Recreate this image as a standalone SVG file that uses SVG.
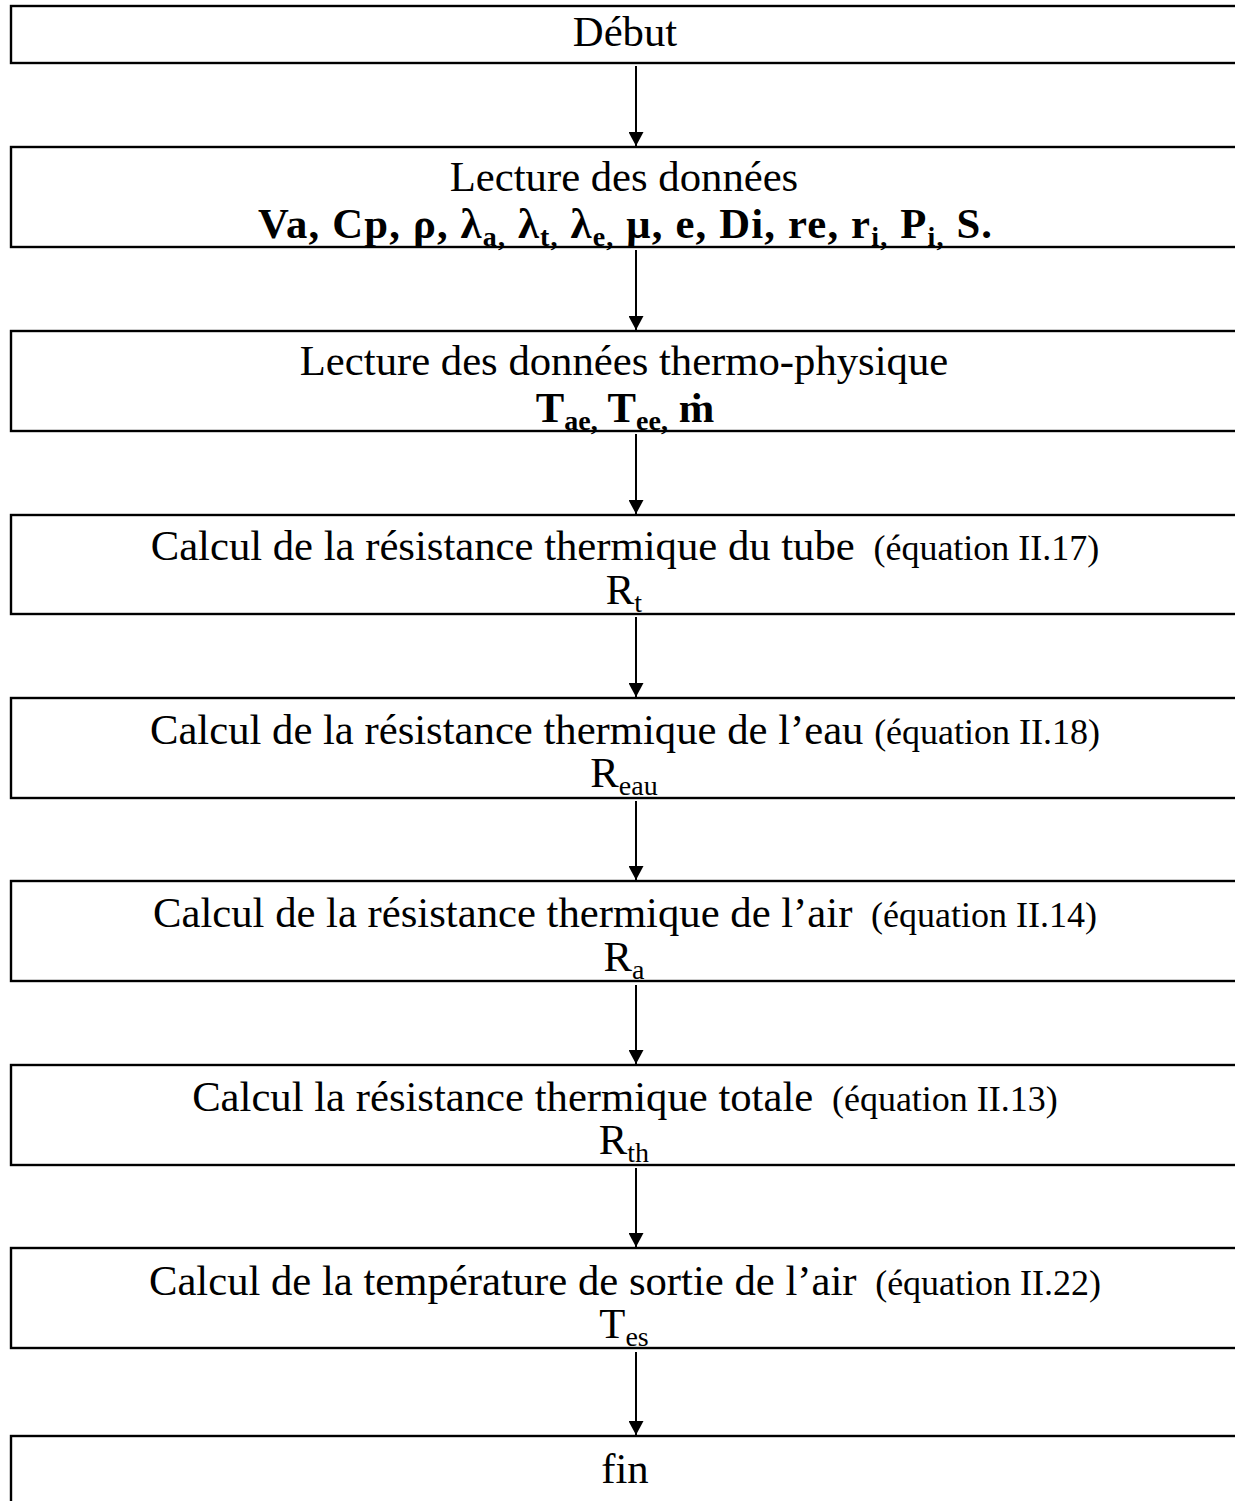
<svg xmlns="http://www.w3.org/2000/svg" width="1235" height="1501" viewBox="0 0 1235 1501">
<defs>
<style>
.box{fill:#fff;stroke:#000;stroke-width:2.4}
.t{font-family:"Liberation Serif","Times New Roman",serif;font-size:42.7px;fill:#000;text-anchor:middle}
.b{font-weight:bold}
.eq{font-size:36px}
.sub{font-size:28px}
.con{stroke:#000;stroke-width:2;fill:none}
</style>
<marker id="ah" viewBox="0 0 14 15" refX="14" refY="7.5" markerWidth="14" markerHeight="15" markerUnits="userSpaceOnUse" orient="auto">
<path d="M0,0 L14,7.5 L0,15 Z" fill="#000"/>
</marker>
</defs>
<rect width="1235" height="1501" fill="#fff"/>
<g id="connectors">
<line class="con" x1="636" y1="66" x2="636" y2="146" marker-end="url(#ah)"/>
<line class="con" x1="636" y1="250" x2="636" y2="330" marker-end="url(#ah)"/>
<line class="con" x1="636" y1="434" x2="636" y2="514" marker-end="url(#ah)"/>
<line class="con" x1="636" y1="617" x2="636" y2="697" marker-end="url(#ah)"/>
<line class="con" x1="636" y1="801" x2="636" y2="880" marker-end="url(#ah)"/>
<line class="con" x1="636" y1="985" x2="636" y2="1064" marker-end="url(#ah)"/>
<line class="con" x1="636" y1="1168" x2="636" y2="1247" marker-end="url(#ah)"/>
<line class="con" x1="636" y1="1352" x2="636" y2="1435" marker-end="url(#ah)"/>
</g>
<g id="n1">
<rect class="box" x="11" y="6" width="1240" height="57"/>
<text class="t" x="625" y="46">Début</text>
</g>
<g id="n2">
<rect class="box" x="11" y="147" width="1240" height="100"/>
<text class="t" x="624" y="191">Lecture des données</text>
<text class="t b" x="625" y="238" textLength="734" lengthAdjust="spacing">Va, Cp, ρ, λ<tspan class="sub" dy="8">a,</tspan><tspan dy="-8"> λ</tspan><tspan class="sub" dy="8">t,</tspan><tspan dy="-8"> λ</tspan><tspan class="sub" dy="8">e,</tspan><tspan dy="-8"> μ, e, Di, re, r</tspan><tspan class="sub" dy="8">i,</tspan><tspan dy="-8"> P</tspan><tspan class="sub" dy="8">i,</tspan><tspan dy="-8"> S.</tspan></text>
</g>
<g id="n3">
<rect class="box" x="11" y="331" width="1240" height="100"/>
<text class="t" x="624" y="375">Lecture des données thermo-physique</text>
<text class="t b" x="625" y="422">T<tspan class="sub" dy="8">ae,</tspan><tspan dy="-8"> T</tspan><tspan class="sub" dy="8">ee,</tspan><tspan dy="-8"> ṁ</tspan></text>
</g>
<g id="n4">
<rect class="box" x="11" y="515" width="1240" height="99"/>
<text class="t" x="625" y="560">Calcul de la résistance thermique du tube <tspan class="eq" dx="8">(équation II.17)</tspan></text>
<text class="t" x="624" y="604">R<tspan class="sub" dy="8">t</tspan></text>
</g>
<g id="n5">
<rect class="box" x="11" y="698" width="1240" height="100"/>
<text class="t" x="625" y="744">Calcul de la résistance thermique de l’eau <tspan class="eq">(équation II.18)</tspan></text>
<text class="t" x="624" y="787">R<tspan class="sub" dy="8">eau</tspan></text>
</g>
<g id="n6">
<rect class="box" x="11" y="881" width="1240" height="100"/>
<text class="t" x="625" y="927">Calcul de la résistance thermique de l’air <tspan class="eq" dx="8">(équation II.14)</tspan></text>
<text class="t" x="624" y="971">R<tspan class="sub" dy="8">a</tspan></text>
</g>
<g id="n7">
<rect class="box" x="11" y="1065" width="1240" height="100"/>
<text class="t" x="625" y="1111">Calcul la résistance thermique totale <tspan class="eq" dx="8">(équation II.13)</tspan></text>
<text class="t" x="624" y="1154">R<tspan class="sub" dy="8">th</tspan></text>
</g>
<g id="n8">
<rect class="box" x="11" y="1248" width="1240" height="100"/>
<text class="t" x="625" y="1295">Calcul de la température de sortie de l’air <tspan class="eq" dx="8">(équation II.22)</tspan></text>
<text class="t" x="624" y="1338">T<tspan class="sub" dy="8">es</tspan></text>
</g>
<g id="n9">
<rect class="box" x="11" y="1436" width="1240" height="80"/>
<text class="t" x="625" y="1483">fin</text>
</g>
</svg>
